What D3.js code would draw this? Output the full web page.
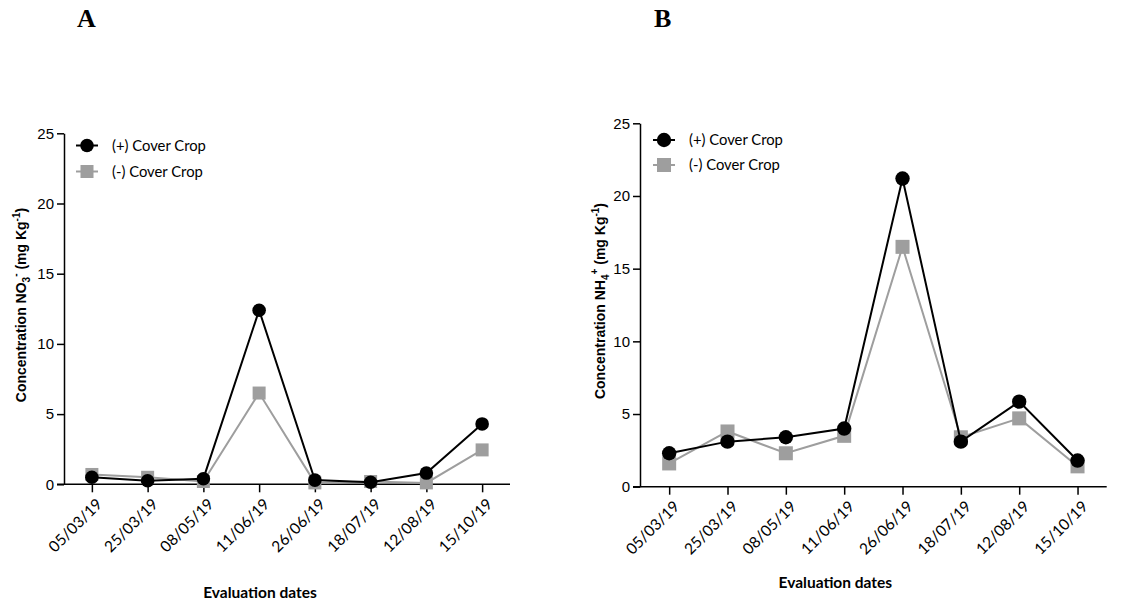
<!DOCTYPE html>
<html>
<head>
<meta charset="utf-8">
<script src="https://cdn.jsdelivr.net/npm/d3@7"></script>
<style>
  body { margin: 0; background: #fff; }
  svg { display: block; }
</style>
</head>
<body>
<svg id="chart" width="1143" height="602"></svg>
<script>
// Sampling dates shared by both panels
const dates = ["05/03/19", "25/03/19", "08/05/19", "11/06/19", "26/06/19", "18/07/19", "12/08/19", "15/10/19"];
const yTicks = [0, 5, 10, 15, 20, 25];
const seriesNames = ["(+) Cover Crop", "(-) Cover Crop"];

// Panel A: nitrate (mg Kg-1)
const nitrateWith = [0.5, 0.25, 0.4, 12.4, 0.3, 0.15, 0.8, 4.3];
const nitrateWithout = [0.7, 0.5, 0.2, 6.5, 0.1, 0.2, 0.1, 2.45];

// Panel B: ammonium (mg Kg-1)
const ammoniumWith = [2.3, 3.1, 3.4, 4.0, 21.2, 3.1, 5.85, 1.8];
const ammoniumWithout = [1.6, 3.8, 2.3, 3.5, 16.5, 3.4, 4.7, 1.4];

const BLACK = "#000000";
const GREY = "#9e9e9e";

const svg = d3.select("#chart");

function drawPanel(opt) {
  const g = svg.append("g");
  const x = d3.scalePoint().domain(dates).range([opt.left, opt.right]).padding(0.5);
  const y = d3.scaleLinear().domain([0, 25]).range([opt.bottom, opt.top]);

  // panel letter
  g.append("text")
    .attr("x", opt.letterX).attr("y", 27)
    .attr("font-family", "Liberation Serif, serif")
    .attr("font-weight", "bold").attr("font-size", 26)
    .text(opt.letter);

  // y axis
  const yAxis = g.append("g")
    .attr("transform", `translate(${opt.left},0)`)
    .call(d3.axisLeft(y).tickValues(yTicks).tickSize(7).tickPadding(3).tickSizeOuter(0));
  yAxis.select(".domain").attr("stroke-width", 1.5);
  yAxis.selectAll(".tick line").attr("stroke-width", 1.5);
  yAxis.selectAll(".tick text")
    .attr("font-family", "Liberation Sans, Arial, sans-serif")
    .attr("font-size", 15).attr("fill", "#000");

  // x axis
  const xAxis = g.append("g")
    .attr("transform", `translate(0,${opt.bottom})`)
    .call(d3.axisBottom(x).tickSize(8).tickSizeOuter(0));
  xAxis.select(".domain").attr("stroke-width", 1.5)
    .attr("d", `M${opt.left - 7},0H${opt.right}`);
  xAxis.selectAll(".tick line").attr("stroke-width", 1.5);
  xAxis.selectAll(".tick text")
    .attr("font-family", "Lato, sans-serif")
    .attr("font-size", 15.5).attr("fill", "#000")
    .attr("text-anchor", "end")
    .attr("dy", null)
    .attr("transform", "translate(3,13) rotate(-45)");

  // y axis title with sub/superscripts
  const yt = g.append("text")
    .attr("transform", `translate(${opt.yTitleX},${opt.yTitleY}) rotate(-90)`)
    .attr("text-anchor", "middle")
    .attr("font-family", "Liberation Sans, Arial, sans-serif")
    .attr("font-weight", "bold").attr("font-size", 14);
  yt.append("tspan").text("Concentration " + opt.ion);
  yt.append("tspan").attr("font-size", 10).attr("dy", 4).text(opt.sub);
  yt.append("tspan").attr("font-size", 10).attr("dy", -11).text(opt.sup);
  yt.append("tspan").attr("dy", 7).text(" (mg Kg");
  yt.append("tspan").attr("font-size", 10).attr("dy", -6).text("-1");
  yt.append("tspan").attr("dy", 6).text(")");

  // x axis title
  g.append("text")
    .attr("x", (opt.left + opt.right) / 2 + opt.xTitleShift).attr("y", opt.xTitleY)
    .attr("text-anchor", "middle")
    .attr("font-family", "Lato, sans-serif")
    .attr("font-weight", "bold").attr("font-size", 15.5)
    .text("Evaluation dates");

  const line = d3.line().x((d, i) => x(dates[i])).y(d => y(d));

  // series without cover crop (grey squares)
  g.append("path").datum(opt.without)
    .attr("d", line).attr("fill", "none")
    .attr("stroke", GREY).attr("stroke-width", 2);
  g.selectAll(".sq").data(opt.without).enter().append("rect")
    .attr("x", (d, i) => x(dates[i]) - opt.sq / 2)
    .attr("y", d => y(d) - opt.sq / 2)
    .attr("width", opt.sq).attr("height", opt.sq)
    .attr("fill", GREY);

  // series with cover crop (black circles)
  g.append("path").datum(opt.with)
    .attr("d", line).attr("fill", "none")
    .attr("stroke", BLACK).attr("stroke-width", 2);
  g.selectAll(".dot").data(opt.with).enter().append("circle")
    .attr("cx", (d, i) => x(dates[i]))
    .attr("cy", d => y(d))
    .attr("r", opt.r).attr("fill", BLACK);

  // legend
  const lg = g.append("g").attr("transform", `translate(${opt.legX},${opt.legY})`);
  [0, 1].forEach(k => {
    const row = lg.append("g").attr("transform", `translate(0,${k * opt.legGap})`);
    const col = k === 0 ? BLACK : GREY;
    row.append("line").attr("x1", -11).attr("x2", 11).attr("y1", 0).attr("y2", 0)
      .attr("stroke", col).attr("stroke-width", 2);
    if (k === 0) {
      row.append("circle").attr("r", opt.r).attr("fill", col);
    } else {
      row.append("rect").attr("x", -opt.sq / 2).attr("y", -opt.sq / 2)
        .attr("width", opt.sq).attr("height", opt.sq).attr("fill", col);
    }
    row.append("text").attr("x", 25).attr("y", 5)
      .attr("font-family", "Lato, sans-serif").attr("font-size", 14.8)
      .text(seriesNames[k]);
  });
}

drawPanel({
  letter: "A", letterX: 77,
  left: 64, right: 510, top: 133.3, bottom: 484.3,
  with: nitrateWith, without: nitrateWithout,
  ion: "NO", sub: "3", sup: "-",
  yTitleX: 26, yTitleY: 305, xTitleY: 598, xTitleShift: -27,
  legX: 87, legY: 145.5, legGap: 26, r: 6.8, sq: 13
});

drawPanel({
  letter: "B", letterX: 654,
  left: 640, right: 1106.7, top: 123.3, bottom: 486.7,
  with: ammoniumWith, without: ammoniumWithout,
  ion: "NH", sub: "4", sup: "+",
  yTitleX: 605, yTitleY: 301, xTitleY: 588, xTitleShift: -38,
  legX: 664, legY: 140, legGap: 25, r: 7.2, sq: 14
});
</script>
</body>
</html>
